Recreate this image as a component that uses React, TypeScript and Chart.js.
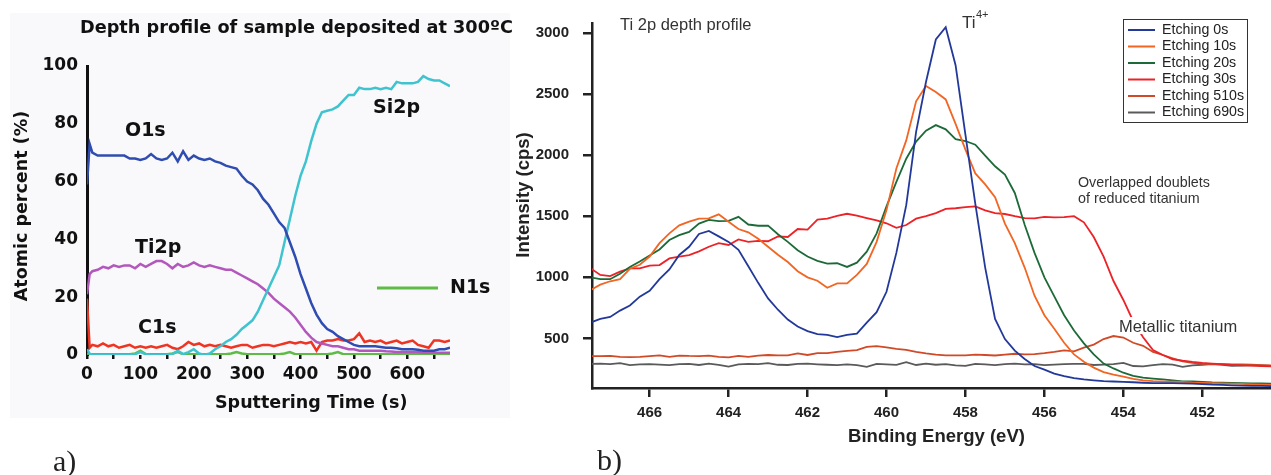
import React, { useEffect, useRef } from "react";
import { Chart, registerables } from "chart.js";

Chart.register(...registerables);

// ---------------- Panel a) : depth profile ----------------
const sputterTime = [
  0, 5, 10, 20, 30, 40, 50, 60, 70, 80,
  90, 100, 110, 120, 130, 140, 150, 160, 170, 180,
  190, 200, 210, 220, 230, 240, 250, 260, 270, 280,
  290, 300, 310, 320, 330, 340, 350, 360, 370, 380,
  390, 400, 410, 420, 430, 440, 450, 460, 470, 480,
  490, 500, 510, 520, 530, 540, 550, 560, 570, 580,
  590, 600, 610, 620, 630, 640, 650, 660, 670, 680,
];
const o1s = [
  59, 73, 70, 69, 69, 69, 69, 69, 69, 68,
  68, 67.5, 68, 69.5, 68, 67.5, 68, 70, 67, 70.5,
  67.5, 69, 68, 67.5, 68, 67, 66.5, 65.5, 65, 64.5,
  62, 60, 59, 57, 54, 52, 49, 46, 44, 39,
  34, 28, 23, 18, 14, 11, 9, 8, 6.5, 5.5,
  4.5, 3.5, 3, 3, 3, 3, 2.8, 2.5, 2.5, 2.3,
  2, 2, 2, 1.8, 1.5, 1.5, 1.5, 2, 2, 2.5,
];
const si2p = [
  2, 0.5, 0, 0, 0, 0, 0, 0, 0, 0,
  0.3, 1, 0.3, 0, 0, 0, 0, 0.3, 1.5, 0.3,
  1, 2, 0.5, 0, 0.5, 2, 3, 4.5, 5.5, 7,
  9, 10.5, 12, 15, 19, 23, 27, 31, 39, 47,
  55, 62, 67, 74, 80, 84, 84.5, 85, 86, 88,
  90, 90, 92.5, 92, 92, 92.5, 92, 92.5, 92, 94.5,
  94, 94, 94, 94.5, 96.5, 95.5, 95, 95, 94, 93,
];
const ti2p = [
  21, 28, 29, 29.5, 30.5, 30, 31, 30.5, 31, 31,
  30, 31.5, 30.5, 31.5, 32.5, 32.5, 31.5, 30, 31.5, 30.5,
  31, 32, 31, 30.5, 31, 30.5, 30, 29.5, 29.5, 28.5,
  27.5, 26.5, 25.5, 24.5, 23, 21.5, 19.5, 18, 16.5, 15,
  13, 10.5, 8, 6, 4.5, 4, 3.5, 3, 3, 2.5,
  2, 2, 1.5, 1.5, 1.5, 1.5, 1.5, 1.3, 1.2, 1,
  1, 1, 1, 1, 0.8, 0.8, 0.8, 0.8, 0.8, 0.8,
];
const c1s = [
  19.5, 2.5, 3.5, 3, 4, 3, 3.5, 2.5, 3, 3.5,
  2.5, 3, 2.5, 3, 2.5, 3, 3.5, 2.5, 2, 3,
  4.5, 3.5, 4, 3, 3.5, 3, 3.5, 3, 2.5, 3,
  3.5, 3.5, 2.5, 3, 3.5, 3.5, 3, 3.5, 4, 4.5,
  4, 4.5, 4, 4.5, 1.5, 4.5, 5, 5, 5.5, 5,
  5, 5.5, 7.5, 4.5, 5, 4.5, 5, 4, 4.5, 5,
  4, 4.5, 5, 3.5, 3, 2.5, 5, 5, 4.5, 5,
];
const n1s = [
  0.5, 0.3, 0.3, 0.3, 0.3, 0.3, 0.3, 0.3, 0.3, 0.3,
  0.5, 1.5, 0.3, 0.3, 0.3, 0.3, 0.3, 0.5, 1, 0.3,
  0.3, 0.3, 0.3, 0.3, 0.3, 0.3, 0.3, 0.3, 0.5, 1,
  0.5, 0.3, 0.3, 0.3, 0.3, 0.3, 0.3, 0.3, 0.5, 1,
  0.3, 0.3, 0.3, 0.3, 0.3, 0.3, 0.3, 0.5, 1, 0.3,
  0.3, 0.3, 0.3, 0.3, 0.3, 0.3, 0.3, 0.3, 0.3, 0.3,
  0.3, 0.3, 0.3, 0.3, 0.3, 0.3, 0.3, 0.3, 0.3, 0.3,
];
const leftYTicks = [0, 20, 40, 60, 80, 100];
const leftXTicks = [0, 50, 100, 150, 200, 250, 300, 350, 400, 450, 500, 550, 600, 650];
const leftXLabels = [0, 100, 200, 300, 400, 500, 600];

// ---------------- Panel b) : Ti 2p spectra ----------------
const bindingEnergy = [
  467.5, 467.25, 467, 466.75, 466.5, 466.25, 466, 465.75, 465.5, 465.25,
  465, 464.75, 464.5, 464.25, 464, 463.75, 463.5, 463.25, 463, 462.75,
  462.5, 462.25, 462, 461.75, 461.5, 461.25, 461, 460.75, 460.5, 460.25,
  460, 459.75, 459.5, 459.25, 459, 458.75, 458.5, 458.25, 458, 457.75,
  457.5, 457.25, 457, 456.75, 456.5, 456.25, 456, 455.75, 455.5, 455.25,
  455, 454.75, 454.5, 454.25, 454, 453.75, 453.5, 453.25, 453, 452.75,
  452.5, 452.25, 452, 451.75, 451.5, 451.25, 451, 450.75, 450.5, 450.25,
];
const etching0s = [
  630, 660, 676, 728, 770, 842, 890, 985, 1065, 1183,
  1250, 1355, 1380, 1335, 1290, 1225, 1090, 955, 828, 735,
  655, 598, 560, 535, 530, 512, 530, 540, 630, 715,
  882, 1200, 1590, 2190, 2597, 2945, 3045, 2735, 2166, 1600,
  1080, 660, 495, 400, 332, 275, 245, 212, 192, 175,
  165, 158, 152, 148, 145, 142, 138, 135, 135, 135,
  133, 130, 126, 122, 120, 117, 115, 113, 112, 110,
];
const etching10s = [
  895, 940, 968, 985, 1070, 1103, 1170, 1280, 1360, 1425,
  1455, 1480, 1482, 1515, 1455, 1395, 1368, 1315, 1250, 1185,
  1125, 1050, 1000, 972, 915, 950, 950, 1020, 1110, 1290,
  1550, 1890, 2120, 2440, 2565, 2515, 2455, 2255, 2045, 1850,
  1760, 1655, 1440, 1280, 1080, 850, 690, 580, 465, 370,
  310, 262, 225, 205, 188, 170, 158, 152, 148, 146,
  145, 138, 136, 135, 132, 130, 128, 125, 122, 120,
];
const etching20s = [
  1000, 985, 985, 1030, 1085, 1130, 1178, 1228, 1305, 1345,
  1372, 1440, 1470, 1460, 1462, 1495, 1432, 1422, 1423, 1352,
  1290, 1222, 1170, 1135, 1112, 1115, 1085, 1120, 1210, 1360,
  1580, 1780, 1970, 2110, 2200, 2245, 2210, 2130, 2115, 2085,
  1995, 1908, 1840, 1690, 1430, 1200, 1000, 845, 690, 565,
  460, 370, 295, 255, 220, 195, 180, 172, 165, 158,
  150, 148, 145, 140, 138, 136, 135, 133, 132, 130,
];
const etching30s = [
  1075, 1020, 1010, 1047, 1073, 1073, 1095, 1100, 1155, 1170,
  1182, 1212, 1250, 1280, 1265, 1310, 1290, 1298, 1295, 1335,
  1330, 1395, 1390, 1472, 1480, 1502, 1520, 1505, 1485, 1465,
  1442, 1405, 1428, 1480, 1500, 1525, 1560, 1565, 1575, 1580,
  1548, 1525, 1518, 1500, 1485, 1482, 1495, 1490, 1492, 1500,
  1450, 1330, 1170, 970, 815, 641, 510, 405, 365, 330,
  318, 308, 300, 295, 290, 284, 280, 278, 275, 272,
];
const etching510s = [
  355, 356, 358, 350, 348, 350, 355, 361, 350, 360,
  357, 356, 360, 350, 345, 358, 350, 360, 365, 362,
  362, 378, 365, 380, 380, 390, 398, 405, 432, 438,
  428, 415, 407, 390, 378, 368, 361, 362, 362, 368,
  365, 361, 368, 375, 370, 372, 380, 390, 402, 395,
  425, 450, 495, 520, 508, 465, 440, 390, 365, 338,
  312, 300, 293, 290, 290, 289, 287, 285, 282, 280,
];
const etching690s = [
  292, 295, 290, 298, 282, 288, 290, 286, 282, 290,
  292, 283, 294, 285, 270, 288, 293, 290, 298, 285,
  283, 292, 294, 289, 285, 282, 288, 282, 268, 292,
  288, 284, 306, 283, 294, 285, 290, 280, 276, 293,
  288, 282, 290, 295, 288, 290, 282, 286, 290, 292,
  293, 283, 286, 290, 300, 275, 272, 282, 290, 286,
  268, 280, 285, 290, 284, 276, 278, 282, 280, 275,
];
const seriesLabels = ["Etching 0s", "Etching 10s", "Etching 20s", "Etching 30s", "Etching 510s", "Etching 690s"];
const rightXTicks = [466, 464, 462, 460, 458, 456, 454, 452];
const rightYTicks = [500, 1000, 1500, 2000, 2500, 3000];

// ---------------- styles ----------------
const leftColors = { o1s: "#2f4cb0", si2p: "#3ec3cf", ti2p: "#b357bd", c1s: "#ee3524", n1s: "#5dbb46" };
const rightColors = ["#22399a", "#f26522", "#1d6a38", "#ec2227", "#d04a28", "#5a5a5a"];
const LEFT_WIDTH = 525;
const RIGHT_OFFSET = 512;

function drawText(
  ctx: CanvasRenderingContext2D,
  text: string,
  x: number,
  y: number,
  font: string,
  color: string,
  align: CanvasTextAlign = "left",
  rot = 0,
  baseline: CanvasTextBaseline = "middle"
) {
  ctx.save();
  ctx.translate(x, y);
  if (rot) ctx.rotate(rot);
  ctx.font = font;
  ctx.fillStyle = color;
  ctx.textAlign = align;
  ctx.textBaseline = baseline;
  ctx.fillText(text, 0, 0);
  ctx.restore();
}

const boldDV = (s: number) => `bold ${s}px "DejaVu Sans", sans-serif`;
const lib = (s: number) => `${s}px "Liberation Sans", Arial, sans-serif`;
const libB = (s: number) => `bold ${s}px "Liberation Sans", Arial, sans-serif`;

const panelAPlugin = {
  id: "panelA",
  beforeDraw(chart: any) {
    const ctx = chart.ctx;
    ctx.save();
    ctx.fillStyle = "#f9f9fb";
    ctx.fillRect(10, 13, 500, 405);
    ctx.restore();
  },
  afterDraw(chart: any) {
    const ctx = chart.ctx as CanvasRenderingContext2D;
    drawText(ctx, "Depth profile of sample deposited at 300ºC", 80, 28, boldDV(17.7), "#111");
    drawText(ctx, "Atomic percent (%)", 22, 206, boldDV(17.5), "#111", "center", -Math.PI / 2);
    drawText(ctx, "Sputtering Time (s)", 215, 403, boldDV(17.5), "#111");
    drawText(ctx, "O1s", 125, 131, boldDV(19), "#111");
    drawText(ctx, "Ti2p", 135, 248, boldDV(19), "#111");
    drawText(ctx, "C1s", 138, 328, boldDV(19), "#111");
    drawText(ctx, "Si2p", 373, 108, boldDV(19), "#111");
    ctx.save();
    ctx.strokeStyle = leftColors.n1s;
    ctx.lineWidth = 3;
    ctx.beginPath();
    ctx.moveTo(377, 288);
    ctx.lineTo(438, 288);
    ctx.stroke();
    ctx.restore();
    drawText(ctx, "N1s", 450, 288, boldDV(19), "#111");
    drawText(ctx, "a)", 53, 471, '30px "Liberation Serif", serif', "#222", "left", 0, "alphabetic");
  },
};

const panelBPlugin = {
  id: "panelB",
  afterDraw(chart: any) {
    const ctx = chart.ctx as CanvasRenderingContext2D;
    const o = RIGHT_OFFSET;
    drawText(ctx, "Ti 2p depth profile", 620 - o, 25, lib(16.5), "#333");
    drawText(ctx, "Ti", 962 - o, 23.5, lib(17), "#333");
    drawText(ctx, "4+", 976 - o, 15, lib(11), "#333");
    drawText(ctx, "Overlapped doublets", 1078 - o, 183, lib(14.3), "#333");
    drawText(ctx, "of reduced titanium", 1078 - o, 199.5, lib(14.3), "#333");
    ctx.save();
    ctx.fillStyle = "#fff";
    ctx.fillRect(1119 - o, 317, 121, 17);
    ctx.restore();
    drawText(ctx, "Metallic titanium", 1119 - o, 327, lib(16.5), "#333");
    drawText(ctx, "Intensity (cps)", 524 - o, 195, libB(18.5), "#222", "center", -Math.PI / 2);
    drawText(ctx, "Binding Energy (eV)", 936.5 - o, 437, libB(18.5), "#222", "center");
    drawText(ctx, "b)", 597 - o, 470, '30px "Liberation Serif", serif', "#222", "left", 0, "alphabetic");

    // legend box
    const bx = 1123.5 - o;
    ctx.save();
    ctx.fillStyle = "#fff";
    ctx.fillRect(bx, 19.5, 124, 103);
    ctx.strokeStyle = "#333";
    ctx.lineWidth = 1;
    ctx.strokeRect(bx, 19.5, 124, 103);
    chart.data.datasets.forEach((ds: any, i: number) => {
      const y = 30 + i * 16.5;
      ctx.strokeStyle = ds.borderColor;
      ctx.lineWidth = 2;
      ctx.beginPath();
      ctx.moveTo(1128 - o, y);
      ctx.lineTo(1155 - o, y);
      ctx.stroke();
      drawText(ctx, ds.label, 1162 - o, y, lib(14.2), "#222");
    });
    ctx.restore();
  },
};

function leftConfig(): any {
  const mk = (label: string, values: number[], color: string) => ({
    label,
    data: sputterTime.map((t, i) => ({ x: t, y: values[i] })),
    borderColor: color,
    borderWidth: 2.5,
    pointRadius: 0,
    tension: 0,
    fill: false,
  });
  return {
    type: "line",
    data: {
      datasets: [
        mk("O1s", o1s, leftColors.o1s),
        mk("Si2p", si2p, leftColors.si2p),
        mk("Ti2p", ti2p, leftColors.ti2p),
        mk("C1s", c1s, leftColors.c1s),
        mk("N1s", n1s, leftColors.n1s),
      ],
    },
    options: {
      animation: false,
      responsive: false,
      events: [],
      layout: { padding: { left: 0, right: LEFT_WIDTH - 450, top: 66, bottom: 80 } },
      plugins: { legend: { display: false }, tooltip: { enabled: false }, title: { display: false } },
      scales: {
        x: {
          type: "linear",
          min: 0,
          max: 680,
          afterBuildTicks: (s: any) => {
            s.ticks = leftXTicks.map((v) => ({ value: v }));
          },
          afterFit: (s: any) => {
            s.height = 40;
          },
          ticks: {
            autoSkip: false,
            maxRotation: 0,
            padding: 5,
            color: "#111",
            font: { family: "DejaVu Sans", weight: "bold", size: 17 },
            callback: (v: number) => (leftXLabels.includes(v) ? String(v) : ""),
          },
          grid: { display: true, drawOnChartArea: false, drawTicks: true, tickLength: 4, color: "#111", lineWidth: 2.5 },
          border: { display: false },
        },
        y: {
          min: 0,
          max: 100,
          afterBuildTicks: (s: any) => {
            s.ticks = leftYTicks.map((v) => ({ value: v }));
          },
          afterFit: (s: any) => {
            s.width = 87;
          },
          ticks: {
            padding: 9,
            color: "#111",
            font: { family: "DejaVu Sans", weight: "bold", size: 17 },
            callback: (v: number) => String(v),
          },
          grid: { display: false, drawTicks: false },
          border: { display: true, color: "#111", width: 3 },
        },
      },
    },
    plugins: [panelAPlugin],
  };
}

function rightConfig(): any {
  const series = [etching0s, etching10s, etching20s, etching30s, etching510s, etching690s];
  const tickFont = { family: "'Liberation Sans Narrow', 'Liberation Sans', sans-serif", weight: "bold", size: 15 };
  return {
    type: "line",
    data: {
      datasets: series.map((vals, k) => ({
        label: seriesLabels[k],
        data: bindingEnergy.map((e, i) => ({ x: e, y: vals[i] })),
        borderColor: rightColors[k],
        borderWidth: 1.8,
        pointRadius: 0,
        tension: 0,
        fill: false,
      })),
    },
    options: {
      animation: false,
      responsive: false,
      events: [],
      layout: { padding: { left: 0, right: 0, top: 15, bottom: 47 } },
      plugins: { legend: { display: false }, tooltip: { enabled: false }, title: { display: false } },
      scales: {
        x: {
          type: "linear",
          reverse: true,
          min: 450.26,
          max: 467.46,
          afterBuildTicks: (s: any) => {
            s.ticks = rightXTicks.map((v) => ({ value: v }));
          },
          afterFit: (s: any) => {
            s.height = 40;
          },
          ticks: {
            autoSkip: false,
            maxRotation: 0,
            padding: 7,
            color: "#222",
            font: tickFont,
            callback: (v: number) => String(v),
          },
          grid: { display: true, drawOnChartArea: false, drawTicks: true, tickLength: 9, color: "#222", lineWidth: 2.5 },
          border: { display: true, color: "#222", width: 2.5 },
        },
        y: {
          min: 95,
          max: 3080,
          afterBuildTicks: (s: any) => {
            s.ticks = rightYTicks.map((v) => ({ value: v }));
          },
          afterFit: (s: any) => {
            s.width = 80;
          },
          ticks: { padding: 14, color: "#222", font: tickFont, callback: (v: number) => String(v) },
          grid: { display: true, drawOnChartArea: false, drawTicks: true, tickLength: 9, color: "#222", lineWidth: 2.5 },
          border: { display: true, color: "#222", width: 2.5 },
        },
      },
    },
    plugins: [panelBPlugin],
  };
}

export default function App() {
  const leftRef = useRef<HTMLCanvasElement>(null);
  const rightRef = useRef<HTMLCanvasElement>(null);

  useEffect(() => {
    if (!leftRef.current || !rightRef.current) return;
    const a = new Chart(leftRef.current, leftConfig());
    const b = new Chart(rightRef.current, rightConfig());
    return () => {
      a.destroy();
      b.destroy();
    };
  }, []);

  return (
    <div
      style={{
        position: "absolute",
        left: 0,
        top: 0,
        width: 1271,
        height: 475,
        background: "#fff",
        overflow: "hidden",
      }}
    >
      <canvas
        ref={leftRef}
        width={LEFT_WIDTH}
        height={475}
        style={{ position: "absolute", left: 0, top: 0, width: LEFT_WIDTH, height: 475 }}
      />
      <canvas
        ref={rightRef}
        width={759}
        height={475}
        style={{ position: "absolute", left: RIGHT_OFFSET, top: 0, width: 759, height: 475 }}
      />
    </div>
  );
}
